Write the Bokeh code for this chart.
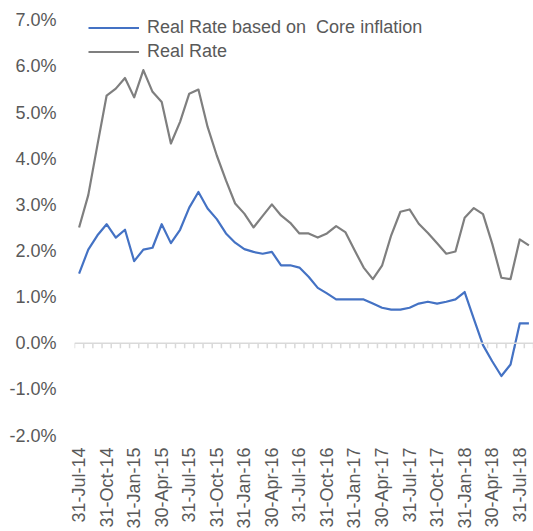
from bokeh.plotting import figure
from bokeh.models import (FixedTicker, PrintfTickFormatter, Span, Legend, LegendItem,
                          Range1d)
from bokeh.embed import file_html
from bokeh.resources import INLINE
import math

# Monthly observations, Jul-2014 .. Aug-2018 (values in %)
core_real_rate = [1.51, 2.03, 2.34, 2.58, 2.29, 2.46, 1.78, 2.03, 2.07, 2.58,
                  2.17, 2.46, 2.94, 3.28, 2.92, 2.69, 2.38, 2.18, 2.04, 1.98,
                  1.94, 1.98, 1.69, 1.69, 1.64, 1.44, 1.20, 1.08, 0.95, 0.95,
                  0.95, 0.95, 0.86, 0.77, 0.73, 0.73, 0.77, 0.86, 0.90, 0.86,
                  0.90, 0.95, 1.11, 0.53, -0.04, -0.39, -0.71, -0.46, 0.43, 0.43]
real_rate = [2.51, 3.21, 4.30, 5.37, 5.52, 5.75, 5.33, 5.92, 5.45, 5.23,
             4.33, 4.80, 5.41, 5.50, 4.69, 4.07, 3.53, 3.03, 2.81, 2.51,
             2.76, 3.01, 2.77, 2.61, 2.38, 2.38, 2.29, 2.38, 2.54, 2.41,
             2.02, 1.64, 1.39, 1.68, 2.34, 2.85, 2.90, 2.59, 2.39, 2.17,
             1.94, 1.99, 2.72, 2.93, 2.80, 2.16, 1.42, 1.39, 2.25, 2.12]
x_tick_index = [0, 3, 6, 9, 12, 15, 18, 21, 24, 27, 30, 33, 36, 39, 42, 45, 48]
x_tick_labels = ["31-Jul-14", "31-Oct-14", "31-Jan-15", "30-Apr-15", "31-Jul-15",
                 "31-Oct-15", "31-Jan-16", "30-Apr-16", "31-Jul-16", "31-Oct-16",
                 "31-Jan-17", "30-Apr-17", "31-Jul-17", "31-Oct-17", "31-Jan-18",
                 "30-Apr-18", "31-Jul-18"]
y_ticks = [-2, -1, 0, 1, 2, 3, 4, 5, 6, 7]
series_names = ["Real Rate based on  Core inflation", "Real Rate"]

n = len(real_rate)
xs = list(range(n))

FONT = "Liberation Sans"
TXT = "#595959"
GRID = "#d9d9d9"

p = figure(width=533, height=531, output_backend="svg", toolbar_location=None,
           x_range=Range1d(-0.5, n - 0.5), y_range=Range1d(-2, 7.43),
           min_border_left=74, min_border_right=0, min_border_top=0,
           min_border_bottom=0)
p.outline_line_color = None
p.xgrid.visible = False
p.ygrid.visible = False
p.background_fill_color = "white"
p.border_fill_color = "white"

# y axis
p.yaxis.ticker = FixedTicker(ticks=y_ticks)
p.yaxis.formatter = PrintfTickFormatter(format="%.1f%%")
p.yaxis.axis_line_color = None
p.yaxis.major_tick_line_color = None
p.yaxis.minor_tick_line_color = None
p.yaxis.major_tick_out = 0
p.yaxis.major_tick_in = 0
p.yaxis.major_label_standoff = 18
p.yaxis.major_label_text_font = FONT
p.yaxis.major_label_text_font_size = "18px"
p.yaxis.major_label_text_color = TXT

# x axis (labels only, at bottom)
p.xaxis.ticker = FixedTicker(ticks=x_tick_index)
p.xaxis.major_label_overrides = {i: lab for i, lab in zip(x_tick_index, x_tick_labels)}
p.xaxis.major_label_orientation = math.pi / 2
p.xaxis.axis_line_color = None
p.xaxis.major_tick_line_color = None
p.xaxis.minor_tick_line_color = None
p.xaxis.major_tick_out = 0
p.xaxis.major_tick_in = 0
p.xaxis.major_label_standoff = 12
p.xaxis.major_label_text_font = FONT
p.xaxis.major_label_text_font_size = "18px"
p.xaxis.major_label_text_color = TXT

# zero line with category tick marks
p.add_layout(Span(location=0, dimension="width", line_color=GRID, line_width=1.5))
bounds = [i - 0.5 for i in range(n + 1)]
p.segment(x0=bounds, y0=[0] * len(bounds), x1=bounds, y1=[-0.11] * len(bounds),
          line_color=GRID, line_width=1.5)

r1 = p.line(xs, core_real_rate, line_color="#4472C4", line_width=2.2,
            line_join="round")
r2 = p.line(xs, real_rate, line_color="#7F7F7F", line_width=2.2,
            line_join="round")

legend = Legend(items=[LegendItem(label=series_names[0], renderers=[r1]),
                       LegendItem(label=series_names[1], renderers=[r2])],
                location=(14, 373), padding=0, margin=0, spacing=3,
                glyph_width=51, glyph_height=21, label_height=21,
                label_standoff=8, label_text_font=FONT,
                label_text_font_size="18px", label_text_color=TXT,
                background_fill_alpha=0, border_line_color=None)
p.add_layout(legend)

open("out.html", "w").write(file_html(p, INLINE))
